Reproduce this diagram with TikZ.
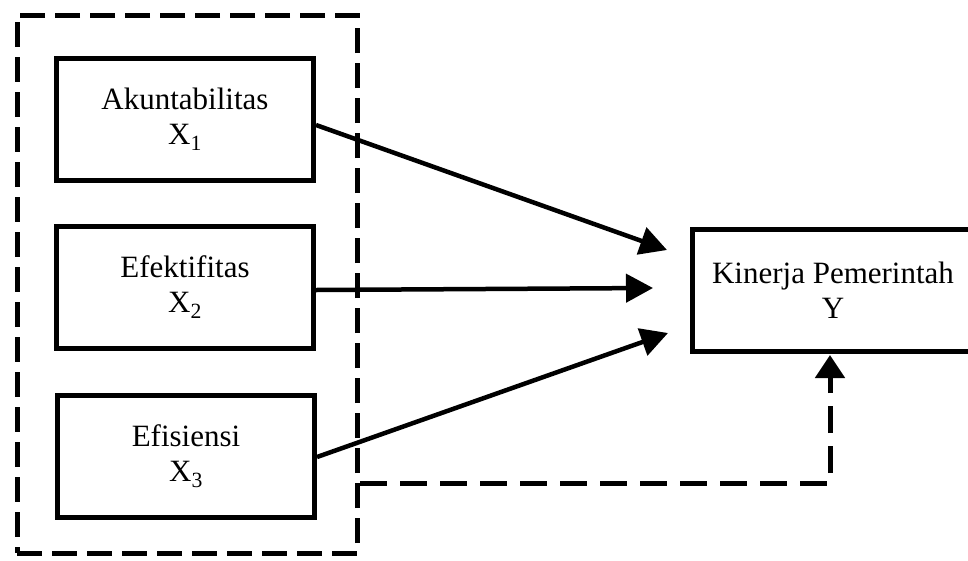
\documentclass[tikz,border=0pt]{standalone}
\usepackage{fontspec}
\setmainfont{Liberation Serif}
\usetikzlibrary{arrows.meta}
\begin{document}
\begin{tikzpicture}[x=1pt,y=-1pt,line width=5pt,font=\fontsize{31}{35}\selectfont,
  box/.style={draw,line width=5pt,minimum width=257pt,minimum height=122pt,align=center,inner sep=0pt},
  link/.style={line width=4.5pt,-{Triangle[length=27pt,width=28pt]}},
  grp/.style={draw,dash pattern=on 25pt off 10pt,minimum width=340pt,minimum height=538pt,inner sep=0pt}]
\useasboundingbox (0,0) rectangle (968,560);
\clip (0,0) rectangle (968,560);
\node[grp] (G) at (187,284) {};
\node[box] (X1) at (185,119) {Akuntabilitas\\X\textsubscript{1}};
\node[box] (X2) at (185,287) {Efektifitas\\X\textsubscript{2}};
\node[box] (X3) at (186,456) {Efisiensi\\X\textsubscript{3}};
\node[box,minimum width=282pt] (Y) at (833,290) {Kinerja Pemerintah\\Y};
\coordinate (t1) at (667,250);\coordinate (t2) at (653,288);\coordinate (t3) at (668,333);
\coordinate (s) at (360,483);\coordinate (d) at (830,355);
\draw[link] ([yshift=-6pt]X1.east)--(t1);
\draw[link] ([yshift=-3pt]X2.east)--(t2);
\draw[link] ([yshift=-1pt]X3.east)--(t3);
\draw[dash pattern=on 27pt off 13pt,-{Triangle[length=23pt,width=29pt]}] (s) -| (d);
\end{tikzpicture}
\end{document}
